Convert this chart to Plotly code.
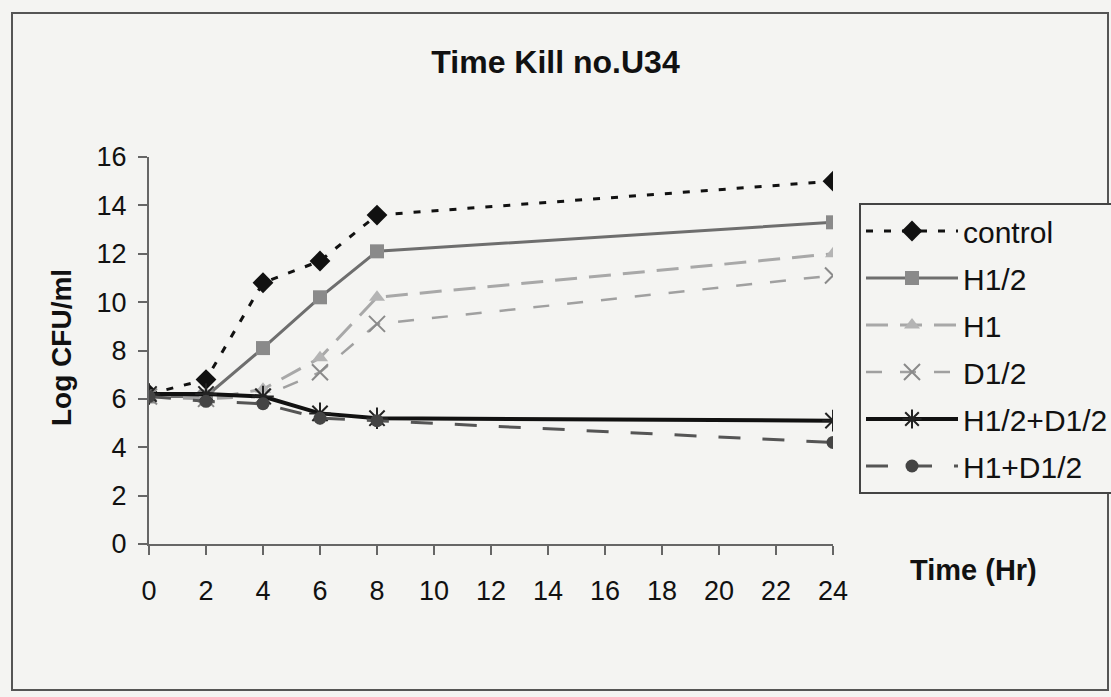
import plotly.graph_objects as go

time_hr = [0, 2, 4, 6, 8, 24]
control = [6.2, 6.8, 10.8, 11.7, 13.6, 15.0]
h_half = [6.1, 6.1, 8.1, 10.2, 12.1, 13.3]
h_one = [6.1, 6.0, 6.4, 7.7, 10.2, 12.0]
d_half = [6.1, 6.0, 6.1, 7.1, 9.1, 11.1]
h_half_d_half = [6.2, 6.2, 6.1, 5.4, 5.2, 5.1]
h_one_d_half = [6.1, 5.9, 5.8, 5.2, 5.1, 4.2]

x_ticks = [0, 2, 4, 6, 8, 10, 12, 14, 16, 18, 20, 22, 24]
y_ticks = [0, 2, 4, 6, 8, 10, 12, 14, 16]

BG = "#f4f4f2"
FONT = "Liberation Sans, Arial, sans-serif"

series = [
    ("control", control, dict(color="#111111", width=3, dash="7px,11px"),
     dict(symbol="diamond", size=16, color="#111111")),
    ("H1/2", h_half, dict(color="#6e6e6e", width=3),
     dict(symbol="square", size=14, color="#8a8a8a")),
    ("H1", h_one, dict(color="#a8a8a8", width=3, dash="22px,12px"),
     dict(symbol="triangle-up", size=14, color="#b4b4b4")),
    ("D1/2", d_half, dict(color="#a0a0a0", width=2.5, dash="16px,18px"),
     dict(symbol="x-thin-open", size=16, line=dict(color="#8a8a8a", width=2), color="#8a8a8a")),
    ("H1/2+D1/2", h_half_d_half, dict(color="#111111", width=4),
     dict(symbol="asterisk-open", size=18, line=dict(color="#222222", width=2), color="#222222")),
    ("H1+D1/2", h_one_d_half, dict(color="#555555", width=3, dash="22px,22px"),
     dict(symbol="circle", size=13, color="#444444")),
]

fig = go.Figure()
for i, (name, ys, line, marker) in enumerate(series):
    fig.add_trace(go.Scatter(
        x=time_hr, y=ys, name=name, mode="lines+markers",
        line=line, marker=marker, legendgroup=f"g{i}",
    ))

L, R, T, B = 149, 833, 157, 544
W, H = 1111, 697
pw, ph = R - L, B - T

def px(x):
    return (x - L) / pw

def py(y):
    return (B - y) / ph

fig.update_layout(
    width=W, height=H,
    margin=dict(l=L, r=W - R, t=T, b=H - B, pad=0, autoexpand=False),
    paper_bgcolor=BG, plot_bgcolor=BG,
    font=dict(family=FONT, color="#111111", size=27),
    title=dict(text="<b>Time Kill no.U34</b>", x=0.5, xanchor="center",
               y=1 - 62 / H, yanchor="middle",
               font=dict(size=32, family=FONT, color="#111111")),
    xaxis=dict(range=[0, 24], tickvals=x_ticks, ticktext=[str(v) for v in x_ticks],
               showgrid=False, zeroline=False, showline=True, linecolor="#666666",
               linewidth=2, ticks="outside", ticklen=9, tickwidth=2, tickcolor="#666666",
               ticklabelstandoff=13, tickfont=dict(size=27, family=FONT, color="#111111")),
    yaxis=dict(range=[0, 16], tickvals=y_ticks, ticktext=[str(v) for v in y_ticks],
               showgrid=False, zeroline=False, showline=True, linecolor="#666666",
               linewidth=2, ticks="outside", ticklen=9, tickwidth=2, tickcolor="#666666",
               ticklabelstandoff=6, tickfont=dict(size=27, family=FONT, color="#111111")),
    legend=dict(x=px(859), y=py(203), xanchor="left", yanchor="top",
                bgcolor=BG, bordercolor="#444444", borderwidth=2,
                font=dict(size=30, family=FONT, color="#111111"),
                itemwidth=92, traceorder="grouped", tracegroupgap=5,
                itemclick=False),
    showlegend=True,
)

fig.add_annotation(text="<b>Log CFU/ml</b>", x=px(61), y=py(348), xref="paper", yref="paper",
                   textangle=-90, showarrow=False, font=dict(size=28, family=FONT, color="#111111"),
                   xanchor="center", yanchor="middle")
fig.add_annotation(text="<b>Time (Hr)</b>", x=px(973), y=py(570), xref="paper", yref="paper",
                   showarrow=False, font=dict(size=29, family=FONT, color="#111111"),
                   xanchor="center", yanchor="middle")

fig.add_shape(type="rect", xref="paper", yref="paper",
              x0=px(12), x1=px(1108), y0=py(690), y1=py(13),
              line=dict(color="#555555", width=2), fillcolor="rgba(0,0,0,0)", layer="below")

fig.write_html("out.html")
